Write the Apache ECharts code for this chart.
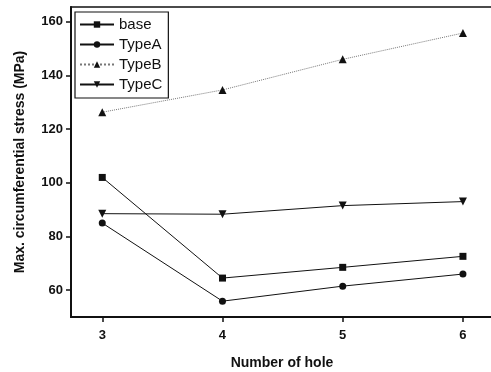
<!DOCTYPE html>
<html><head><meta charset="utf-8">
<script src="https://cdn.jsdelivr.net/npm/echarts@6/dist/echarts.min.js"></script>
<style>html,body{margin:0;padding:0;background:#fff}#c{width:491px;height:372px}</style>
</head><body><div id="c"></div>
<script>
const holes = [3, 4, 5, 6];
const base  = [102, 64.5, 68.5, 72.6];
const typeA = [85, 55.9, 61.5, 66];
const typeB = [126.3, 134.6, 146, 155.8];
const typeC = [88.5, 88.3, 91.5, 93];
const xTicks = [3, 4, 5, 6];
const yTicks = [60, 80, 100, 120, 140, 160];

const pair = arr => holes.map((h, i) => [h, arr[i]]);
const font = 'Liberation Sans, Arial, sans-serif';
function s(name, data, symbol, type, size) {
  return {
    name, type: 'line', data: pair(data), symbol, symbolSize: size || 7,
    lineStyle: { color: type === 'dotted' ? '#777' : '#111', width: 1, type: type || 'solid' },
    itemStyle: { color: '#111' }
  };
}
const chart = echarts.init(document.getElementById('c'));
chart.setOption({
  animation: false,
  grid: { left: 71, top: 7, right: -2, bottom: 55, show: true, borderColor: '#111', borderWidth: 1.5, outerBoundsMode: 'none', containLabel: false },
  xAxis: {
    type: 'value', min: 2.74, max: 6.25,
    name: 'Number of hole', nameLocation: 'middle', nameGap: 39,
    nameTextStyle: { fontFamily: font, fontWeight: 'bold', fontSize: 14, color: '#111' },
    axisLine: { lineStyle: { color: '#111', width: 2 } },
    axisTick: { customValues: xTicks, length: 5, lineStyle: { color: '#111', width: 1.5 } },
    axisLabel: { customValues: xTicks, fontFamily: font, fontWeight: 'bold', fontSize: 13, color: '#111', margin: 12 },
    splitLine: { show: false }
  },
  yAxis: {
    type: 'value', min: 50, max: 165.5,
    name: 'Max. circumferential stress (MPa)', nameLocation: 'middle', nameGap: 44,
    nameTextStyle: { fontFamily: font, fontWeight: 'bold', fontSize: 14, color: '#111' },
    axisLine: { show: true, lineStyle: { color: '#111', width: 2 } },
    axisTick: { show: true, customValues: yTicks, length: 5, lineStyle: { color: '#111', width: 1.5 } },
    axisLabel: { customValues: yTicks, fontFamily: font, fontWeight: 'bold', fontSize: 13, color: '#111', margin: 8 },
    splitLine: { show: false }
  },
  legend: {
    orient: 'vertical', left: 75, top: 12, itemWidth: 34, itemHeight: 8, itemGap: 5,
    padding: [5, 6, 6, 4], borderColor: '#111', borderWidth: 1.2,
    textStyle: { fontFamily: font, fontSize: 15, color: '#111' },
    data: ['base', 'TypeA', 'TypeB', 'TypeC']
  },
  series: [
    s('base', base, 'rect'),
    s('TypeA', typeA, 'circle'),
    s('TypeB', typeB, 'triangle', 'dotted', 8),
    s('TypeC', typeC, 'path://M0,0 L10,0 L5,9 Z', 'solid', 8)
  ]
});
</script></body></html>
